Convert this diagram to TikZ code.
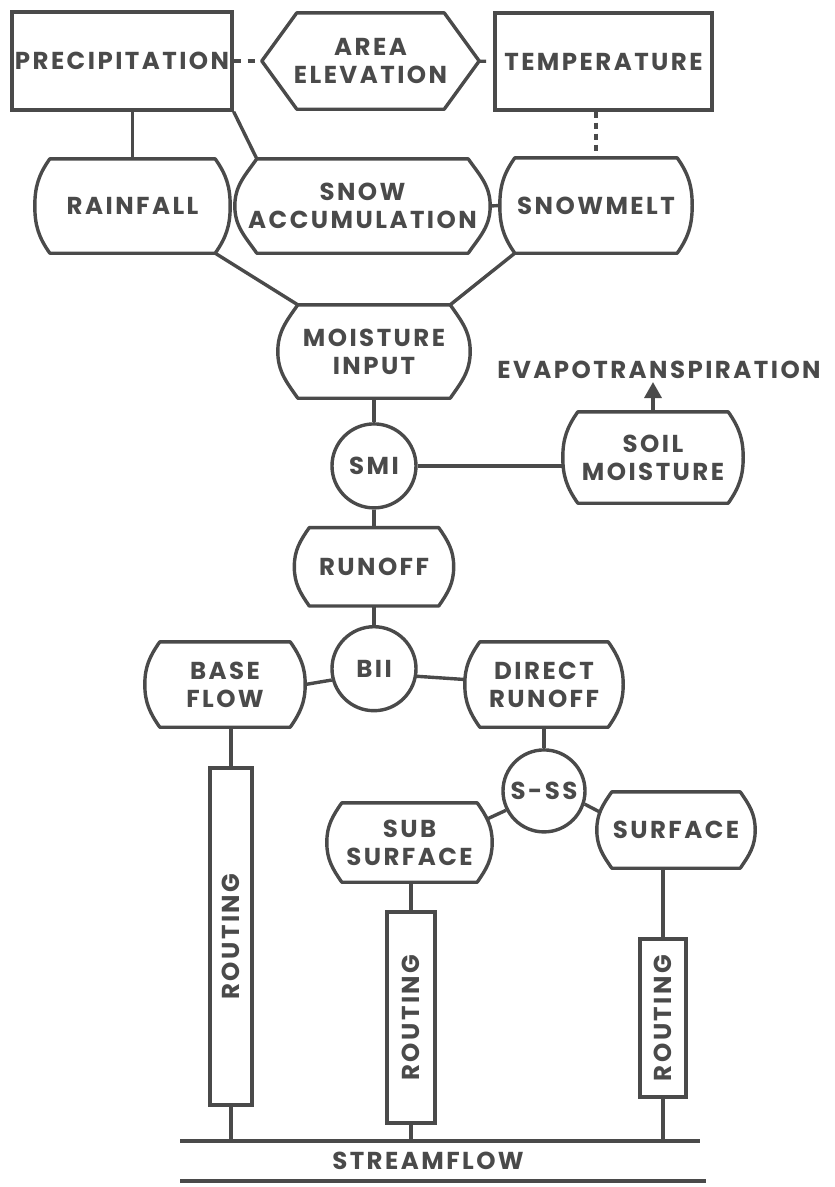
\documentclass[tikz,border=0pt]{standalone}
\usepackage{fontspec}
\usepackage{graphicx}
\setmainfont{Poppins}[LetterSpace=10]
\usetikzlibrary{arrows.meta,positioning}
\definecolor{ink}{HTML}{4A4A4A}

\begin{document}
\begin{tikzpicture}[
  x=1pt, y=1pt,
  every node/.style={text=ink, font=\fontsize{24.5}{28}\selectfont\bfseries, align=center},
  line/.style={draw=ink, line width=3.4pt, line join=round},
  box/.style={rectangle, draw=ink, line width=3.4pt, inner sep=0pt},
  junction/.style={circle, draw=ink, line width=3.4pt, minimum size=84pt, inner sep=0pt},
  barrel/.style={rectangle, inner sep=0pt,
    append after command={\pgfextra{\draw[line]
      ([xshift=#1]\tikzlastnode.north west) -- ([xshift=-#1]\tikzlastnode.north east)
      to[out=-55,in=90] (\tikzlastnode.east)
      to[out=-90,in=55] ([xshift=-#1]\tikzlastnode.south east)
      -- ([xshift=#1]\tikzlastnode.south west)
      to[out=125,in=-90] (\tikzlastnode.west)
      to[out=90,in=-125] ([xshift=#1]\tikzlastnode.north west) -- cycle;}}},
  barrel/.default=15pt,
  hexa/.style={rectangle, inner sep=0pt,
    append after command={\pgfextra{\draw[line]
      ([xshift=#1]\tikzlastnode.north west) -- ([xshift=-#1]\tikzlastnode.north east)
      -- (\tikzlastnode.east) -- ([xshift=-#1]\tikzlastnode.south east)
      -- ([xshift=#1]\tikzlastnode.south west) -- (\tikzlastnode.west) -- cycle;}}},
  arr/.style={line, -{Triangle[length=16pt,width=17pt]}}
]
\useasboundingbox (0,0) rectangle (835,-1187);

% Inputs
\node[box, minimum width=220pt, minimum height=98pt] (precip) at (122,-61) {PRECIPITATION};
\node[hexa=35pt, minimum width=217pt, minimum height=96pt] (areael) at (370.5,-61) {AREA\\ELEVATION};
\node[box, minimum width=217pt, minimum height=97pt] (temp) at (603.5,-61.5) {TEMPERATURE};

% Snow and rain
\node[barrel, minimum width=195pt, minimum height=94pt] (rain) at (132.5,-206) {RAINFALL};
\node[barrel=22pt, minimum width=255pt, minimum height=94pt] (snowacc) at (362.5,-206) {SNOW\\ACCUMULATION};
\node[barrel, minimum width=192pt, minimum height=95pt] (melt) at (596,-205.5) {SNOWMELT};

% Soil moisture
\node[barrel=20pt, minimum width=192pt, minimum height=93pt] (moist) at (374,-351.5) {MOISTURE\\INPUT};
\node[junction, below=24pt of moist] (smi) {SMI};
\node[barrel, minimum width=180pt, minimum height=91pt] (soilm) at (653,-457.5) {SOIL\\MOISTURE};
\node[inner sep=3pt] (evap) at (659,-370) {EVAPOTRANSPIRATION};
\node[barrel, minimum width=159pt, minimum height=78pt, below=18pt of smi] (runoff) {RUNOFF};
\node[junction, below=19pt of runoff] (bii) {BII};

% Flow split
\node[barrel, minimum width=160pt, minimum height=85pt] (base) at (225,-684.5) {BASE\\FLOW};
\node[barrel, minimum width=158pt, minimum height=85pt] (direct) at (544,-684.5) {DIRECT\\RUNOFF};
\node[junction, minimum size=82pt, below=21pt of direct] (sss) {S-SS};
\node[barrel, minimum width=165pt, minimum height=79pt] (subsurf) at (409.5,-842.5) {SUB\\SURFACE};
\node[barrel, minimum width=158pt, minimum height=76pt] (surf) at (676,-830) {SURFACE};

% Routing
\node[box, minimum width=42pt, minimum height=337pt] (rout1) at (231,-936.5) {\rotatebox{90}{ROUTING}};
\node[box, minimum width=48pt, minimum height=211pt] (rout2) at (411,-1017.5) {\rotatebox{90}{ROUTING}};
\node[box, minimum width=46pt, minimum height=158pt] (rout3) at (663,-1018) {\rotatebox{90}{ROUTING}};

% Outlet
\coordinate (sfl) at (180,-1141);
\coordinate (sfr) at (700,-1141);
\node (sflow) at (428,-1161) {STREAMFLOW};
\coordinate (sbl) at (180,-1181);
\coordinate (sbr) at (706,-1181);

% Input links
\draw[line, dash pattern=on 7pt off 7pt] (precip) -- (areael);
\draw[line, dash pattern=on 7pt off 7pt] (areael) -- (temp);
\draw[line, dash pattern=on 6pt off 5pt] (melt.north |- temp.south) -- (melt.north);
\draw[line] (rain.north |- precip.south) -- (rain.north);
\draw[line] (precip.south east) -- ([xshift=22pt]snowacc.north west);
\draw[line] (snowacc.east) -- (melt.west);
\draw[line] ([xshift=-15pt]rain.south east) -- ([xshift=20pt]moist.north west);
\draw[line] ([xshift=15pt]melt.south west) -- ([xshift=-20pt]moist.north east);

% Moisture accounting
\draw[line] (moist) -- (smi);
\draw[line] (smi.east) -- (smi.east -| soilm.west);
\draw[arr] (soilm.north) -- (soilm.north |- evap.south);
\draw[line] (smi) -- (runoff);
\draw[line] (runoff) -- (bii);

% Base / direct runoff
\draw[line] (bii.195) -- (base.east);
\draw[line] (bii.-10) -- ([yshift=5pt]direct.west);
\draw[line] (direct) -- (sss);
\draw[line] (sss.207) -- ([xshift=-4pt,yshift=24pt]subsurf.east);
\draw[line] (sss.-18) -- ([xshift=3pt,yshift=18pt]surf.west);

% Routing to streamflow
\draw[line] (rout1.north |- base.south) -- (rout1.north);
\draw[line] (rout2.north |- subsurf.south) -- (rout2.north);
\draw[line] (rout3.north |- surf.south) -- (rout3.north);
\draw[line] (sfl) -- (sfr);
\draw[line] (sbl) -- (sbr);
\draw[line] (rout1.south) -- (rout1.south |- sfl);
\draw[line] (rout2.south) -- (rout2.south |- sfl);
\draw[line] (rout3.south) -- (rout3.south |- sfl);

\end{tikzpicture}
\end{document}
